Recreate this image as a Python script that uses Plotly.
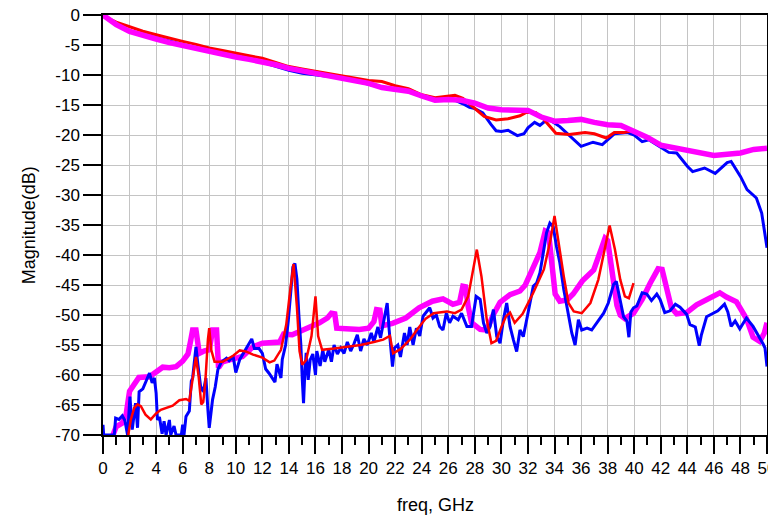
import plotly.graph_objects as go

# ---------------- data (freq in GHz, magnitude in dB) ----------------
top_blue_f = [0, 1, 2, 4, 6, 8, 10, 11, 12, 13, 14, 15, 16, 17, 18, 19, 20, 21, 22, 23, 24, 25, 26, 26.5,
              27.1, 27.6, 28, 28.6, 29.2, 29.6, 30, 30.5, 31.2, 31.7, 32, 32.5, 32.9, 33.5, 34.4, 35.1, 36,
              36.9, 37.6, 38.5, 39.5, 40, 40.6, 41.1, 42.1, 42.6, 43.2, 44, 44.4, 45.3, 46.1, 47, 47.3, 48,
              48.5, 49.2, 49.6, 50]
top_blue_db = [0, -1.5, -2.6, -3.8, -4.9, -6.0, -6.9, -7.3, -7.9, -8.6, -9.2, -9.7, -10.0, -10.2, -10.5,
               -11.0, -11.5, -12.1, -12.3, -12.8, -13.5, -14.1, -14.1, -14.2, -14.8, -15.4, -15.6, -16.3,
               -18.2, -19.3, -19.4, -19.2, -20.1, -19.8, -18.8, -17.9, -18.4, -17.3, -18.6, -20.1, -21.9,
               -21.2, -21.6, -19.8, -19.6, -20.0, -21.1, -20.8, -22.2, -22.9, -23.0, -25.2, -26.1, -25.5,
               -26.4, -24.6, -24.4, -26.9, -29.1, -30.5, -33.0, -38.8]

top_red_f = [0, 0.5, 1, 2, 3, 4, 5, 6, 7, 8, 9, 10, 11, 12, 13, 14, 15, 16, 17, 18, 19, 20, 21, 22, 23, 24,
             25, 26, 26.5, 27.1, 28, 28.7, 29.6, 30.5, 31.4, 31.9, 32.6, 33.2, 34.1, 35.1, 36.3, 37, 37.9,
             38.5, 39.2, 39.9]
top_red_db = [0, -0.7, -1.2, -2.0, -2.7, -3.3, -3.9, -4.4, -4.9, -5.5, -5.9, -6.4, -6.8, -7.2, -7.9, -8.6,
              -9.0, -9.4, -9.7, -10.1, -10.5, -10.9, -11.1, -11.8, -12.3, -13.3, -13.8, -13.6, -13.4, -13.9,
              -15.6, -16.9, -17.5, -17.3, -16.8, -16.2, -16.3, -17.4, -19.7, -19.9, -19.6, -19.8, -20.5,
              -19.6, -19.6, -19.3]

top_mag_f = [0, 0.5, 1, 2, 3, 4, 5, 6, 7, 8, 9, 10, 11, 12, 13, 14, 15, 16, 17, 18, 19, 20, 21, 22, 23, 24,
             25, 26, 27, 28, 29, 30, 31, 32, 33, 34, 35, 36, 37, 38, 39, 40, 41, 42, 43, 44, 45, 46, 47,
             48, 49, 50]
top_mag_db = [0, -0.9, -1.6, -2.75, -3.45, -4.0, -4.6, -5.1, -5.7, -6.2, -6.6, -7.0, -7.4, -7.8, -8.3,
              -8.9, -9.3, -9.7, -10.1, -10.5, -10.9, -11.4, -12.1, -12.3, -12.7, -13.5, -14.2, -14.1,
              -14.2, -14.7, -15.5, -15.8, -15.8, -15.9, -17.0, -17.7, -17.6, -17.4, -17.9, -18.3, -18.4,
              -19.3, -20.4, -21.7, -22.1, -22.7, -23.1, -23.4, -23.2, -23.0, -22.4, -22.2]

low_mag_f = [0.75, 1.0, 1.45, 1.75, 2.0, 2.4, 2.7, 3.5, 4.0, 4.5, 5.0, 5.5, 6.0, 6.4, 6.6, 6.75, 7.0, 7.25,
             7.6, 8.0, 8.25, 8.55, 8.7, 9.0, 9.8, 10.5, 11.3, 12.0, 13.3, 13.6, 14.25, 15.25, 16.3, 16.9,
             17.2, 17.45, 17.6, 18.3, 19.3, 20.0, 20.4, 20.6, 20.85, 21.0, 21.8, 22.8, 23.8, 24.8, 25.6,
             26.35, 26.85, 27.1, 27.3, 27.5, 27.75, 28.4, 28.9, 29.4, 29.9, 30.65, 31.4, 31.8, 32.3, 32.9,
             33.3, 33.55, 34.05, 34.4, 34.95, 35.4, 36.1, 36.95, 37.5, 37.8, 38.0, 38.35, 38.7, 38.95, 39.3,
             39.95, 40.6, 41.2, 41.8, 42.1, 42.45, 42.8, 43.2, 43.95, 44.7, 45.7, 46.45, 46.95, 47.7, 48.45,
             48.95, 49.45, 49.8, 50]
low_mag_db = [-70, -68.6, -68.0, -66.5, -62.7, -61.5, -60.4, -60.3, -59.5, -58.7, -58.8, -58.6, -57.7,
              -56.5, -54.3, -52.5, -52.5, -56.4, -56.0, -55.8, -52.5, -52.5, -58.8, -57.8, -57.3, -56.9,
              -55.3, -54.7, -54.5, -53.2, -53.3, -52.4, -51.3, -50.5, -49.7, -49.8, -52.2, -52.3, -52.4,
              -52.2, -51.1, -49.1, -49.2, -51.8, -51.4, -50.5, -48.8, -47.7, -47.3, -48.2, -47.9, -45.2,
              -45.3, -48.6, -51.3, -52.4, -52.5, -49.9, -47.9, -46.6, -46.0, -45.0, -42.4, -39.6, -36.0,
              -36.3, -46.5, -47.7, -47.5, -46.5, -44.3, -42.5, -39.1, -37.2, -37.6, -43.6, -48.4, -50.0,
              -50.6, -49.7, -47.4, -44.7, -42.3, -42.4, -45.5, -48.8, -49.8, -49.6, -48.3, -47.2, -46.3,
              -47.0, -47.8, -50.6, -53.7, -54.4, -53.0, -51.3]

low_red_f = [1.9, 2.1, 2.35, 2.6, 2.85, 3.2, 3.6, 4.0, 4.35, 4.75, 5.25, 5.75, 6.25, 6.5, 6.7, 6.9, 7.0, 7.2,
             7.4, 7.55, 7.7, 7.9, 8.0, 8.15, 8.4, 9.0, 9.8, 10.3, 10.8, 11.3, 12.0, 12.55, 12.9, 13.4, 13.8,
             14.1, 14.35, 14.6, 14.8, 15.0, 15.3, 15.7, 16.0, 16.2, 16.5, 17.4, 18.4, 19.4, 20.4, 21.1,
             21.6, 21.85, 22.4, 23.15, 23.7, 24.3, 24.9, 25.9, 26.5, 27.0, 27.5, 27.9, 28.15, 28.5, 28.9,
             29.25, 29.6, 30.0, 30.35, 30.65, 31.0, 31.6, 32.4, 33.2, 33.7, 34.0, 34.3, 34.7, 35.05, 35.45,
             36.05, 36.7, 37.3, 37.8, 38.15, 38.55, 38.95, 39.3, 39.6, 39.95]
low_red_db = [-70, -67.4, -65.5, -64.9, -65.2, -66.6, -67.4, -66.4, -65.8, -65.5, -65.1, -64.2, -64.0,
              -64.3, -61.3, -58.2, -57.0, -60.2, -64.9, -64.5, -61.3, -54.1, -52.2, -55.8, -57.8, -57.8,
              -56.8, -55.9, -56.1, -56.6, -57.1, -57.9, -57.6, -55.8, -51.6, -45.8, -41.5, -48.6, -56.0,
              -58.3, -57.5, -53.5, -46.9, -53.5, -55.8, -55.6, -55.3, -55.0, -54.5, -54.1, -53.5, -56.4,
              -55.7, -54.0, -52.3, -50.6, -49.7, -49.4, -49.7, -49.1, -46.9, -42.4, -39.1, -43.6, -50.8,
              -54.7, -54.3, -52.0, -50.2, -49.6, -51.3, -49.8, -46.3, -42.4, -37.4, -33.5, -38.0, -43.6,
              -48.0, -49.4, -49.7, -48.0, -44.1, -38.6, -35.1, -39.1, -44.1, -46.9, -47.2, -44.7]

low_blue_f = [0, 0.05, 0.85, 0.95, 1.2, 1.45, 1.65, 1.85, 2.03, 2.2, 2.45, 2.6, 2.72, 3.0, 3.25, 3.5, 3.7,
              3.87, 4.0, 4.1, 4.25, 4.45, 4.6, 4.75, 5.0, 5.1, 5.35, 5.5, 5.9, 6.0, 6.1, 6.25, 6.5, 6.65,
              6.75, 6.9, 7.0, 7.15, 7.35, 7.55, 7.75, 7.9, 8.0, 8.25, 8.45, 8.65, 8.9, 9.3, 9.5, 9.8, 10.0,
              10.3, 10.65, 10.9, 11.2, 11.4, 11.75, 12.0, 12.25, 12.5, 12.75, 12.95, 13.1, 13.4, 13.5,
              13.75, 13.95, 14.15, 14.3, 14.45, 14.6, 14.75, 14.9, 15.0, 15.1, 15.2, 15.3, 15.45, 15.6,
              15.8, 16.0, 16.1, 16.35, 16.55, 16.7, 17.0, 17.2, 17.4, 17.65, 17.9, 18.15, 18.4, 18.65,
              18.9, 19.15, 19.4, 19.65, 19.9, 20.2, 20.4, 20.7, 20.9, 21.2, 21.4, 21.55, 21.8, 21.95, 22.2,
              22.4, 22.7, 22.9, 23.1, 23.35, 23.6, 23.85, 24.1, 24.35, 24.6, 24.85, 25.1, 25.35, 25.6,
              25.85, 26.1, 26.35, 26.75, 27.0, 27.4, 27.75, 28.1, 28.4, 28.65, 28.9, 29.15, 29.4, 29.65,
              29.9, 30.15, 30.4, 30.65, 30.9, 31.15, 31.4, 31.65, 32.0, 32.4, 32.65, 32.9, 33.15, 33.4,
              33.65, 33.9, 34.15, 34.4, 34.7, 35.05, 35.3, 35.55, 35.8, 36.05, 36.45, 36.8, 37.2, 37.45,
              37.7, 38.05, 38.45, 38.65, 38.95, 39.2, 39.45, 39.6, 39.75, 39.95, 40.2, 40.6, 40.95, 41.3,
              41.7, 41.95, 42.3, 42.7, 43.1, 43.45, 43.95, 44.2, 44.6, 44.9, 45.05, 45.45, 45.95, 46.3,
              46.8, 47.05, 47.3, 47.6, 47.95, 48.45, 48.95, 49.45, 49.7, 49.85, 50.0]
low_blue_db = [-68.3, -70, -70, -67.2, -67.4, -66.8, -67.6, -70, -63.6, -69.1, -64.7, -68.8, -62.8, -62.3,
               -61.0, -59.7, -61.3, -60.5, -63.0, -67.5, -67.0, -69.8, -67.7, -70, -67.5, -70, -68.5, -70,
               -70, -68.3, -70, -66.9, -66.0, -61.0, -60.5, -57.4, -55.3, -58.3, -61.9, -62.8, -60.5,
               -65.8, -68.8, -64.1, -62.0, -59.1, -57.9, -57.2, -57.6, -56.9, -59.6, -57.4, -56.1, -55.2,
               -54.0, -55.6, -55.6, -56.4, -59.0, -59.7, -60.6, -61.2, -58.2, -60.5, -57.4, -55.0, -51.0,
               -46.0, -42.0, -41.4, -44.0, -50.0, -55.0, -60.5, -64.7, -59.5, -56.3, -60.8, -57.5, -56.5,
               -60.0, -56.0, -58.5, -55.8, -57.8, -55.8, -57.8, -55.0, -56.5, -55.5, -56.4, -54.5, -56.0,
               -54.8, -53.3, -56.0, -54.0, -55.0, -53.0, -54.5, -52.0, -53.8, -50.2, -48.0, -52.5, -58.6,
               -55.5, -55.0, -57.0, -53.0, -55.0, -52.0, -55.0, -52.2, -53.5, -50.2, -49.5, -48.8, -50.5,
               -50.0, -51.9, -52.5, -49.7, -51.3, -50.2, -50.8, -49.7, -51.9, -51.9, -46.9, -47.4, -51.3,
               -53.0, -51.9, -49.1, -53.6, -54.7, -50.8, -48.0, -51.9, -54.1, -56.1, -52.5, -53.6, -49.7,
               -45.2, -44.7, -43.0, -39.7, -36.3, -34.7, -35.3, -38.6, -41.3, -45.8, -50.2, -53.0, -55.0,
               -50.8, -52.5, -52.2, -52.5, -51.3, -50.5, -49.7, -48.0, -44.9, -44.4, -47.5, -50.3, -51.0,
               -53.7, -49.5, -48.8, -48.5, -46.3, -46.5, -47.6, -46.5, -47.4, -49.6, -49.3, -48.2, -48.7,
               -49.9, -51.6, -52.0, -55.1, -53.4, -50.3, -49.7, -49.3, -48.2, -49.5, -51.9, -51.0, -52.3,
               -50.5, -51.9, -53.7, -54.8, -55.5, -58.6]

x_tick_vals = list(range(0, 51, 2))
y_tick_vals = list(range(-70, 1, 5))

BLUE = "#0000ff"
RED = "#ff0000"
MAGENTA = "#ff00ff"

fig = go.Figure()
# lower curves: magenta under blue under red
fig.add_trace(go.Scatter(x=low_mag_f, y=low_mag_db, mode="lines", line=dict(color=MAGENTA, width=5.5)))
fig.add_trace(go.Scatter(x=low_blue_f, y=low_blue_db, mode="lines", line=dict(color=BLUE, width=3)))
fig.add_trace(go.Scatter(x=low_red_f, y=low_red_db, mode="lines", line=dict(color=RED, width=2.5)))
# upper curves: blue, red, magenta on top
fig.add_trace(go.Scatter(x=top_blue_f, y=top_blue_db, mode="lines", line=dict(color=BLUE, width=3)))
fig.add_trace(go.Scatter(x=top_red_f, y=top_red_db, mode="lines", line=dict(color=RED, width=3)))
fig.add_trace(go.Scatter(x=top_mag_f, y=top_mag_db, mode="lines", line=dict(color=MAGENTA, width=5.5)))

font_family = "Liberation Sans, Arial, sans-serif"

fig.update_layout(
    width=768, height=517,
    margin=dict(l=103, r=1, t=15, b=82, autoexpand=False),
    paper_bgcolor="white", plot_bgcolor="white",
    showlegend=False,
    font=dict(family=font_family, size=17, color="black"),
    xaxis=dict(
        range=[0, 50], tickvals=x_tick_vals, ticktext=[str(v) for v in x_tick_vals],
        ticks="outside", ticklen=17, tickwidth=1.5, tickcolor="black",
        showgrid=True, gridcolor="#c4c4c4", gridwidth=1,
        showline=True, linecolor="black", linewidth=1.5, mirror=True,
        zeroline=False, automargin=False, ticklabeloverflow="allow",
        minor=dict(dtick=1, ticks="outside", ticklen=8, tickwidth=1.5, tickcolor="black", showgrid=False),
        tickfont=dict(size=17),
    ),
    yaxis=dict(
        range=[-70, 0], tickvals=y_tick_vals, ticktext=[str(v) for v in y_tick_vals],
        ticks="outside", ticklen=18, tickwidth=1.5, tickcolor="black",
        showgrid=True, gridcolor="#c4c4c4", gridwidth=1,
        showline=True, linecolor="black", linewidth=1.5, mirror=True,
        zeroline=False, automargin=False, ticklabeloverflow="allow",
        tickfont=dict(size=17),
    ),
    annotations=[
        dict(text="freq, GHz", xref="paper", yref="paper", x=0.5, y=-0.166,
             xanchor="center", yanchor="middle", showarrow=False, font=dict(size=18)),
        dict(text="Magnitude(dB)", xref="paper", yref="paper", x=-0.111, y=0.5, textangle=-90,
             xanchor="center", yanchor="middle", showarrow=False, font=dict(size=18)),
    ],
)

fig.write_html(
    "out.html",
    config={"displayModeBar": False},
    post_script="document.body.style.margin='0';document.body.style.overflow='hidden';",
)
